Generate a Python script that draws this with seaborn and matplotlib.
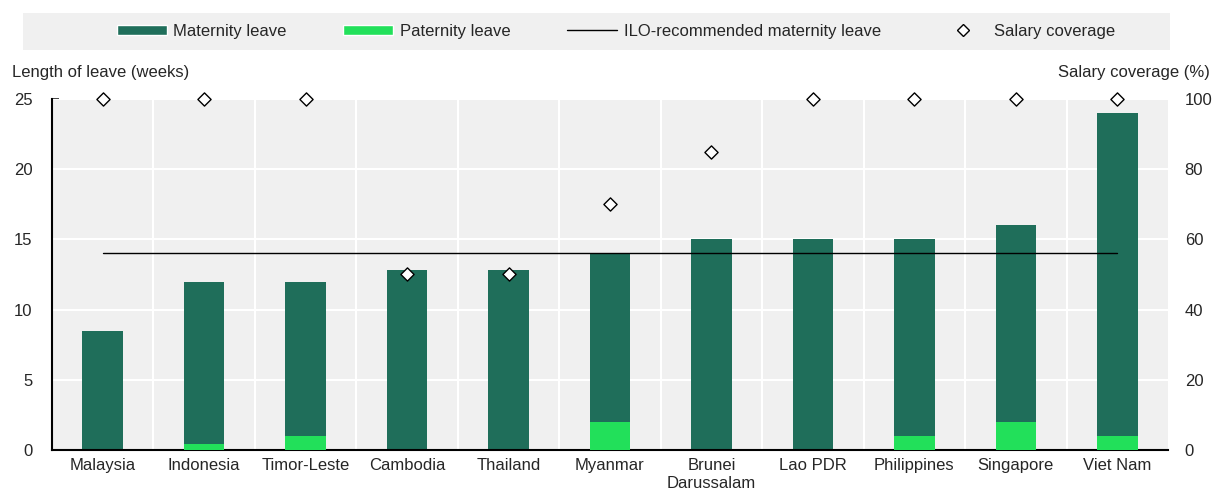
import matplotlib
matplotlib.use("Agg")
import matplotlib.pyplot as plt
import seaborn as sns
import pandas as pd
import numpy as np
from matplotlib.lines import Line2D
from matplotlib.patches import Patch, Rectangle

countries = ["Malaysia", "Indonesia", "Timor-Leste", "Cambodia", "Thailand", "Myanmar",
             "Brunei\nDarussalam", "Lao PDR", "Philippines", "Singapore", "Viet Nam"]
maternity_weeks = [8.5, 12, 12, 12.8, 12.8, 14, 15, 15, 15, 16, 24]
paternity_weeks = [0, 0.4, 1, 0, 0, 2, 0, 0, 1, 2, 1]
salary_coverage = [100, 100, 100, 50, 50, 70, 85, 100, 100, 100, 100]
ilo_weeks = 14

mat_color = "#1f6e5a"
pat_color = "#22e05a"
bg = "#f0f0f0"

sns.set_style("white")
plt.rcParams["font.family"] = ["Liberation Sans", "DejaVu Sans"]

df = pd.DataFrame({"country": countries, "maternity": maternity_weeks,
                   "paternity": paternity_weeks, "salary": salary_coverage})

fig = plt.figure(figsize=(12.15, 4.94), dpi=100)
ax = fig.add_axes([0.0428, 0.0891, 0.9185, 0.7105])
ax.set_facecolor(bg)

sns.barplot(data=df, x="country", y="maternity", color=mat_color, width=0.4,
            saturation=1, linewidth=0, ax=ax, zorder=2)
sns.barplot(data=df, x="country", y="paternity", color=pat_color, width=0.4,
            saturation=1, linewidth=0, ax=ax, zorder=3)

n = len(countries)
ax.plot([0, n - 1], [ilo_weeks, ilo_weeks], color="black", lw=1, zorder=4)

ax.set_xlim(-0.5, n - 0.5)
ax.set_ylim(0, 25)
ax.set_yticks(range(0, 26, 5))
ax.set_xlabel("")
ax.set_ylabel("")
for y in range(5, 26, 5):
    ax.axhline(y, color="white", lw=1.5, zorder=1)
for xb in np.arange(0.5, n - 0.5, 1):
    ax.axvline(xb, color="white", lw=1.5, zorder=1)

ax.set_xticks(np.arange(-0.5, n, 1), minor=True)
ax.tick_params(axis="x", which="major", length=0, labelsize=12, pad=6)
ax.tick_params(axis="x", which="minor", direction="in", length=5, width=1.2, color="black")
ax.tick_params(axis="y", which="major", direction="in", length=5, width=1.2,
               labelsize=12, pad=14)
for s in ["top", "right"]:
    ax.spines[s].set_visible(False)
for s in ["left", "bottom"]:
    ax.spines[s].set_color("black")
    ax.spines[s].set_linewidth(1.5)

ax2 = ax.twinx()
sns.scatterplot(data=df, x="country", y="salary", marker="D", s=45, facecolor="white",
                edgecolor="black", linewidth=1, ax=ax2, zorder=5, clip_on=False)
ax2.set_ylim(0, 100)
ax2.set_yticks(range(0, 101, 20))
ax2.set_ylabel("")
ax2.tick_params(axis="y", length=0, labelsize=12, pad=12)
for s in ax2.spines.values():
    s.set_visible(False)

fig.text(0.010, 0.838, "Length of leave (weeks)", fontsize=12, ha="left", va="bottom")
fig.text(0.996, 0.838, "Salary coverage (%)", fontsize=12, ha="right", va="bottom")

# grey band behind the legend
fig.patches.append(Rectangle((23 / 1215, 1 - 50 / 494), (1170 - 23) / 1215, 37 / 494,
                             transform=fig.transFigure, facecolor=bg, edgecolor="none",
                             zorder=0))

handles = [Patch(facecolor=mat_color, label="Maternity leave"),
           Patch(facecolor=pat_color, label="Paternity leave"),
           Line2D([0], [0], color="black", lw=1, label="ILO-recommended maternity leave"),
           Line2D([0], [0], marker="D", color="none", markerfacecolor="white",
                  markeredgecolor="black", markersize=6, label="Salary coverage")]
leg = fig.legend(handles=handles, loc="center", bbox_to_anchor=(616 / 1215, 1 - 31.5 / 494),
                 ncol=4, frameon=False, fontsize=12, handlelength=3, handleheight=0.6,
                 handletextpad=0.4, borderaxespad=0, columnspacing=3.4)

fig.savefig("out.png", dpi=100)
